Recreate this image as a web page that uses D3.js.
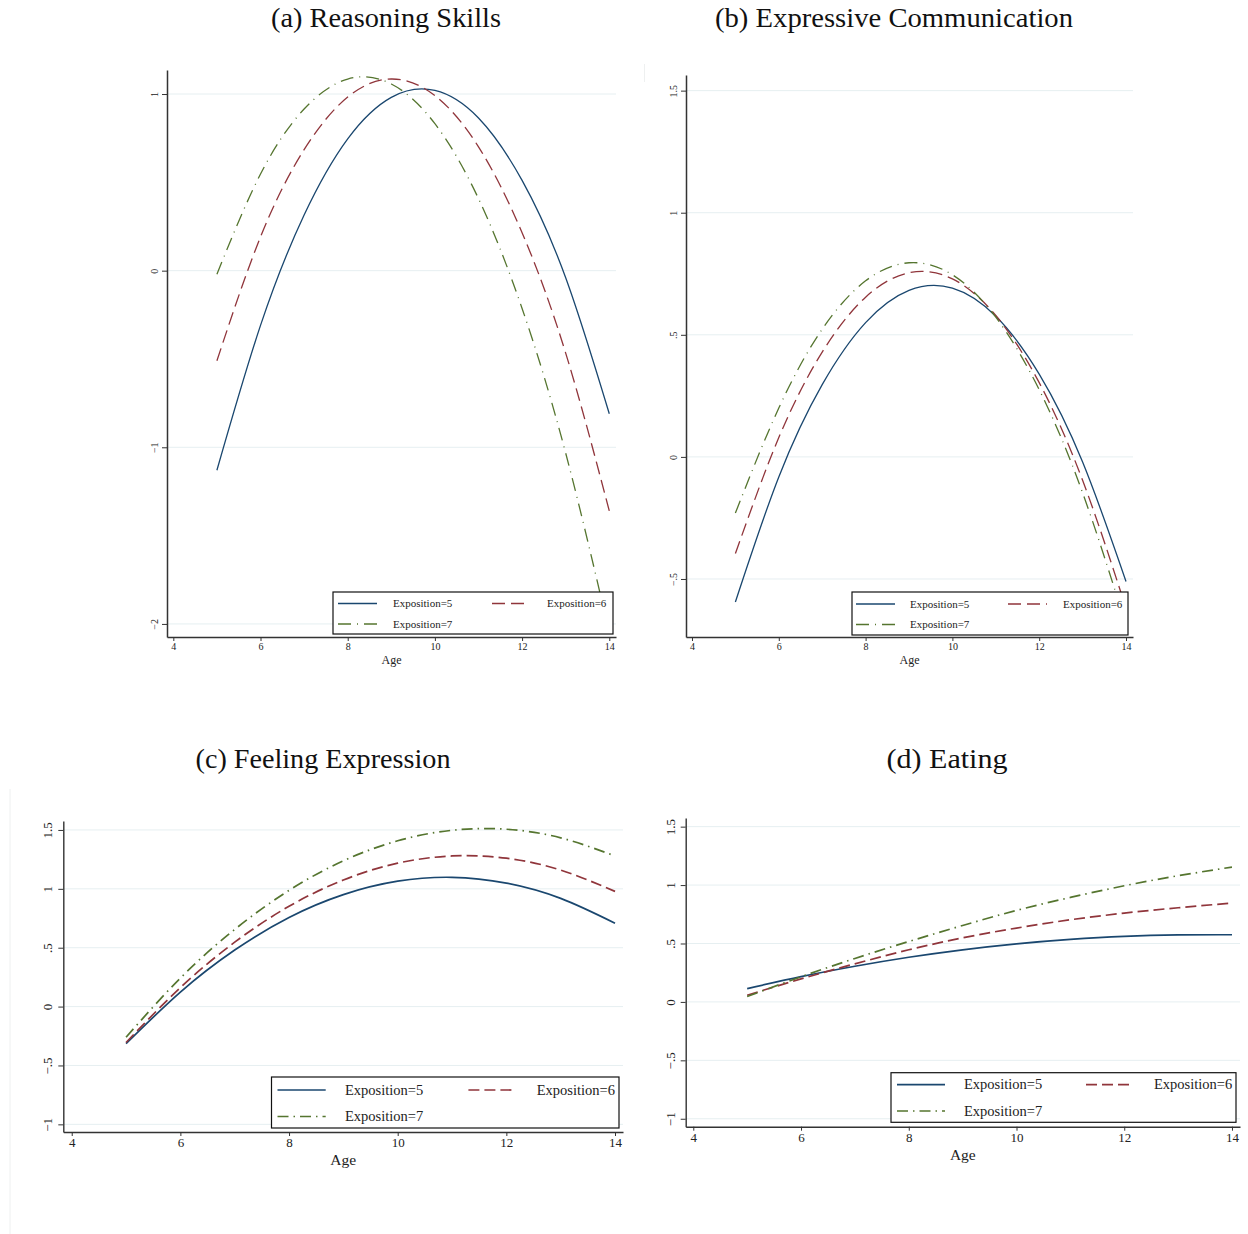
<!DOCTYPE html>
<html>
<head>
<meta charset="utf-8">
<script src="https://cdn.jsdelivr.net/npm/d3@7"></script>
<style>
  body { margin: 0; background: #fff; }
  svg { display: block; font-family: "Liberation Serif", "DejaVu Serif", serif; }
</style>
</head>
<body>
<svg id="chart" width="1248" height="1234"></svg>
<script>
// ages on the x axis
var ages = [5, 6, 7, 8, 9, 10, 11, 12, 13, 14];
var xTicks = [4, 6, 8, 10, 12, 14];
var seriesNames = ["Exposition=5", "Exposition=6", "Exposition=7"];

// (a) Reasoning Skills
var reasoningExp5 = [-1.13, -0.31, 0.315, 0.746, 0.981, 1.02, 0.864, 0.511, -0.04, -0.81];
var reasoningExp6 = [-0.51, 0.191, 0.685, 0.983, 1.085, 0.991, 0.701, 0.215, -0.467, -1.36];
var reasoningExp7 = [-0.02, 0.547, 0.915, 1.085, 1.057, 0.832, 0.408, -0.214, -1.033, -2.05];
var reasoningTicks = [-2, -1, 0, 1];

// (b) Expressive Communication
var commExp5 = [-0.594, -0.082, 0.296, 0.55, 0.682, 0.691, 0.576, 0.339, -0.021, -0.51];
var commExp6 = [-0.396, 0.079, 0.429, 0.654, 0.754, 0.729, 0.579, 0.304, -0.096, -0.62];
var commExp7 = [-0.23, 0.2, 0.523, 0.721, 0.795, 0.746, 0.572, 0.275, -0.147, -0.69];
var commTicks = [-0.5, 0, 0.5, 1, 1.5];

// (c) Feeling Expression
var feelingExp5 = [-0.315, 0.123, 0.48, 0.757, 0.951, 1.065, 1.098, 1.049, 0.919, 0.708];
var feelingExp6 = [-0.305, 0.161, 0.547, 0.852, 1.075, 1.218, 1.279, 1.26, 1.159, 0.978];
var feelingExp7 = [-0.26, 0.242, 0.655, 0.987, 1.238, 1.408, 1.497, 1.506, 1.433, 1.279];
var feelingTicks = [-1, -0.5, 0, 0.5, 1, 1.5];

// (d) Eating
var eatingExp5 = [0.114, 0.216, 0.305, 0.382, 0.446, 0.497, 0.535, 0.561, 0.573, 0.575];
var eatingExp6 = [0.057, 0.197, 0.326, 0.446, 0.548, 0.632, 0.703, 0.76, 0.806, 0.846];
var eatingExp7 = [0.046, 0.215, 0.372, 0.517, 0.654, 0.783, 0.894, 0.994, 1.08, 1.154];
var eatingTicks = [-1, -0.5, 0, 0.5, 1, 1.5];

var colors = ["#1a476f", "#90353b", "#55752f"];

// layout of each sub graph (pixels), kept apart from the data
var panels = [
  {title: "(a) Reasoning Skills", tx: 386, ty: 27, tw: 230,
   series: [reasoningExp5, reasoningExp6, reasoningExp7], ticks: reasoningTicks,
   left: 167, right: 616, top: 70, bottom: 637,
   xDom: [3.855, 14.154], yDom: [-2.074, 1.136],
   small: true,
   legend: {x0: 333, y0: 592, x1: 613, y1: 634, rows: [603.5, 624], samples: [[338, 377], [492, 530]], texts: [393, 547]}},
  {title: "(b) Expressive Communication", tx: 894, ty: 27, tw: 358,
   series: [commExp5, commExp6, commExp7], ticks: commTicks,
   left: 686, right: 1133, top: 75, bottom: 637,
   xDom: [3.862, 14.161], yDom: [-0.7376, 1.564],
   small: true,
   legend: {x0: 852, y0: 592, x1: 1128, y1: 635, rows: [604, 624.5], samples: [[856, 895], [1008, 1047]], texts: [910, 1063]}},
  {title: "(c) Feeling Expression", tx: 323, ty: 768, tw: 255,
   series: [feelingExp5, feelingExp6, feelingExp7], ticks: feelingTicks,
   left: 63.3, right: 623, top: 821, bottom: 1132,
   xDom: [3.845, 14.147], yDom: [-1.065, 1.576],
   small: false,
   legend: {x0: 271.5, y0: 1077, x1: 619, y1: 1128, rows: [1090, 1116.5], samples: [[277.5, 325.7], [468.4, 515.4]], texts: [345, 536.7]}},
  {title: "(d) Eating", tx: 947, ty: 768, tw: 121,
   series: [eatingExp5, eatingExp6, eatingExp7], ticks: eatingTicks,
   left: 685.7, right: 1240, top: 818, bottom: 1126.7,
   xDom: [3.859, 14.149], yDom: [-1.068, 1.574],
   small: false,
   legend: {x0: 891, y0: 1072.7, x1: 1236, y1: 1122.3, rows: [1084.7, 1111], samples: [[897, 945], [1086, 1133]], texts: [964, 1154]}}
];

function fmtTick(d) {
  var s = String(Math.abs(d)).replace(/^0\./, ".");
  return (d < 0 ? "\u2212" : "") + s;
}

var svg = d3.select("#chart");

// faint frame remnants of the exported graphs
svg.append("line").attr("x1", 10).attr("x2", 10).attr("y1", 789).attr("y2", 1234)
  .attr("stroke", "#eef0f0").attr("stroke-width", 1);
svg.append("line").attr("x1", 644.5).attr("x2", 644.5).attr("y1", 64).attr("y2", 82)
  .attr("stroke", "#eef0f0").attr("stroke-width", 1);

panels.forEach(function(p) {
  var fs = p.small ? {tick: 10, legend: 11, age: 12, lw: 1.3, dash: "13,6", dashdot: "13,6,1,6"}
                   : {tick: 13, legend: 14.5, age: 15.5, lw: 1.7, dash: "11,5", dashdot: "11,5,1.5,5"};
  var dashes = [null, fs.dash, fs.dashdot];

  var x = d3.scaleLinear().domain(p.xDom).range([p.left, p.right]);
  var y = d3.scaleLinear().domain(p.yDom).range([p.bottom, p.top]);

  svg.append("text")
    .attr("x", p.tx).attr("y", p.ty)
    .attr("text-anchor", "middle")
    .attr("textLength", p.tw)
    .attr("lengthAdjust", "spacingAndGlyphs")
    .style("font-size", "27px")
    .attr("fill", "#111")
    .text(p.title);

  var g = svg.append("g");

  // grid lines
  g.selectAll("line.grid")
    .data(p.ticks)
    .join("line")
    .attr("class", "grid")
    .attr("x1", p.left).attr("x2", p.right)
    .attr("y1", d => y(d)).attr("y2", d => y(d))
    .attr("stroke", "#e6eff1")
    .attr("stroke-width", 1);

  // curves
  var line = d3.line()
    .x((d, i) => x(ages[i]))
    .y(d => y(d))
    .curve(d3.curveNatural);

  g.selectAll("path.curve")
    .data(p.series)
    .join("path")
    .attr("class", "curve")
    .attr("d", line)
    .attr("fill", "none")
    .attr("stroke", (d, i) => colors[i])
    .attr("stroke-width", fs.lw)
    .attr("stroke-dasharray", (d, i) => dashes[i]);

  // axes
  var yAxis = g.append("g")
    .attr("transform", `translate(${p.left},0)`)
    .call(d3.axisLeft(y).tickValues(p.ticks).tickSize(5).tickSizeOuter(0).tickFormat(fmtTick));
  yAxis.selectAll("text")
    .attr("transform", "rotate(-90)")
    .attr("x", 0).attr("y", p.small ? -9 : -11).attr("dy", 0)
    .attr("text-anchor", "middle")
    .style("font-size", fs.tick + "px")
    .style("font-family", "Liberation Serif")
    .attr("fill", "#222");

  var xAxis = g.append("g")
    .attr("transform", `translate(0,${p.bottom})`)
    .call(d3.axisBottom(x).tickValues(xTicks).tickSize(4).tickSizeOuter(0).tickPadding(2));
  xAxis.selectAll("text")
    .style("font-size", fs.tick + "px")
    .style("font-family", "Liberation Serif")
    .attr("fill", "#222");

  [yAxis, xAxis].forEach(function(a) {
    a.select(".domain").attr("stroke", "#333").attr("stroke-width", p.small ? 1.5 : 1.4);
    a.selectAll(".tick line").attr("stroke", "#333").attr("stroke-width", 1);
  });

  g.append("text")
    .attr("x", (p.left + p.right) / 2)
    .attr("y", p.bottom + (p.small ? 27 : 33))
    .attr("text-anchor", "middle")
    .style("font-size", fs.age + "px")
    .attr("fill", "#222")
    .text("Age");

  // legend
  var L = p.legend;
  var lg = g.append("g");
  lg.append("rect")
    .attr("x", L.x0).attr("y", L.y0)
    .attr("width", L.x1 - L.x0).attr("height", L.y1 - L.y0)
    .attr("fill", "#fff").attr("stroke", "#111").attr("stroke-width", 1.2);

  var slots = [[0, 0], [1, 0], [0, 1]]; // [column, row]
  var items = lg.selectAll("g.item")
    .data(seriesNames)
    .join("g")
    .attr("class", "item");
  items.append("line")
    .attr("x1", (d, i) => L.samples[slots[i][0]][0])
    .attr("x2", (d, i) => L.samples[slots[i][0]][1])
    .attr("y1", (d, i) => L.rows[slots[i][1]])
    .attr("y2", (d, i) => L.rows[slots[i][1]])
    .attr("stroke", (d, i) => colors[i])
    .attr("stroke-width", fs.lw)
    .attr("stroke-dasharray", (d, i) => dashes[i]);
  items.append("text")
    .attr("x", (d, i) => L.texts[slots[i][0]])
    .attr("y", (d, i) => L.rows[slots[i][1]])
    .attr("dy", "0.33em")
    .style("font-size", fs.legend + "px")
    .attr("fill", "#222")
    .text(d => d);
});
</script>
</body>
</html>
